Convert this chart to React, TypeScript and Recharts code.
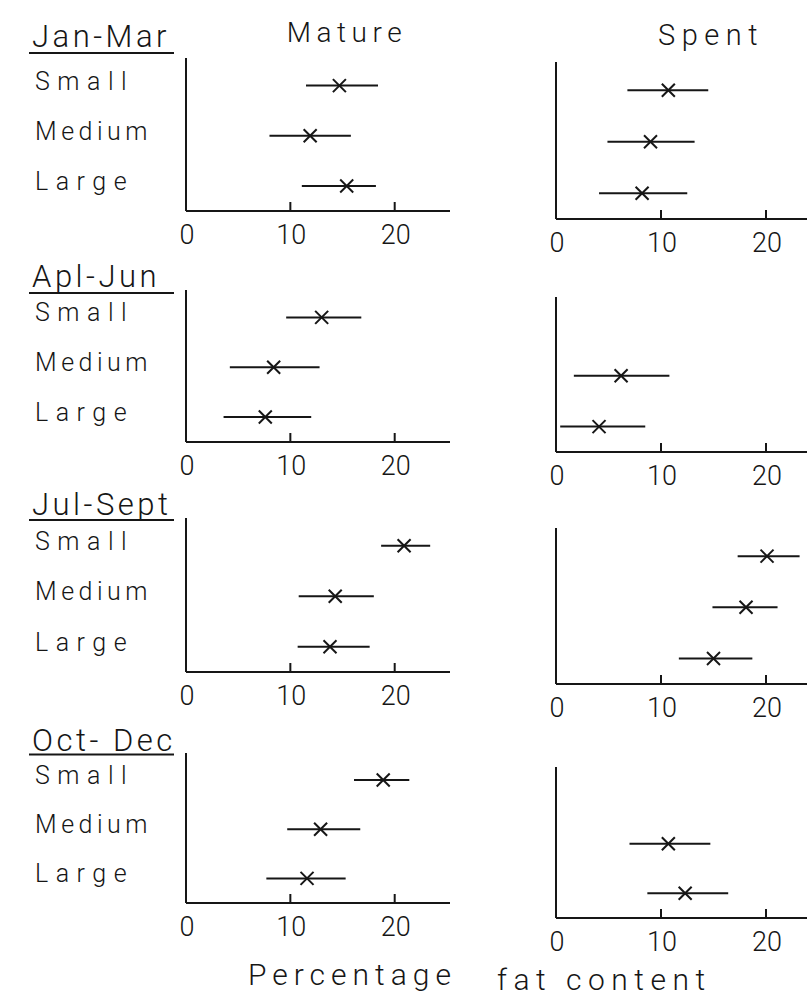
import React from 'react';
import { ScatterChart, Scatter, XAxis, YAxis, ErrorBar } from 'recharts';

// ---- data ----
const SEASONS = ['Jan-Mar', 'Apl-Jun', 'Jul-Sept', 'Oct- Dec'];
const SIZES = ['Small', 'Medium', 'Large'];
const X_TICKS = [0, 10, 20];
const GROUPS = ['Mature', 'Spent'];
const X_LABEL_LEFT = 'Percentage';
const X_LABEL_RIGHT = 'fat content';

// rows: Small, Medium, Large ; one inner array per season
const MATURE_MEAN = [[14.7, 11.9, 15.4], [13.0, 8.4, 7.6], [20.9, 14.3, 13.8], [18.9, 12.9, 11.6]];
const MATURE_LOW = [[11.5, 8.0, 11.1], [9.6, 4.2, 3.6], [18.7, 10.8, 10.7], [16.1, 9.7, 7.7]];
const MATURE_HIGH = [[18.4, 15.8, 18.2], [16.8, 12.8, 12.0], [23.4, 18.0, 17.6], [21.4, 16.7, 15.3]];

const SPENT_MEAN = [[10.7, 9.0, 8.2], [null, 6.2, 4.1], [20.1, 18.1, 15.0], [null, 10.7, 12.3]];
const SPENT_LOW = [[6.8, 4.9, 4.1], [null, 1.7, 0.4], [17.3, 14.9, 11.7], [null, 7.0, 8.7]];
const SPENT_HIGH = [[14.5, 13.2, 12.5], [null, 10.8, 8.5], [23.2, 21.1, 18.7], [null, 14.7, 16.4]];

// ---- layout ----
const INK = '#161616';
const FONT = 'Roboto, "DejaVu Sans", sans-serif';
const WEIGHT = 300;
const MATURE_TOPS = [58, 290, 518, 753];
const MATURE_AXES = [211, 442, 672, 903];
const SPENT_TOPS = [62, 297, 528, 767];
const SPENT_AXES = [219, 452, 684, 918];
const LABEL_X = 35;
const SIZE_SPACING: Record<string, number> = { Small: 7.5, Medium: 4.5, Large: 7.5 };
const ROW_VALUE = [3, 2, 1];

const Cross = (props: any) => {
  const { cx, cy } = props;
  if (cx == null || cy == null) return null;
  const s = 6.5;
  return (
    <g>
      <line x1={cx - s} y1={cy - s} x2={cx + s} y2={cy + s} stroke={INK} strokeWidth={2} />
      <line x1={cx - s} y1={cy + s} x2={cx + s} y2={cy - s} stroke={INK} strokeWidth={2} />
    </g>
  );
};

const XTick = (props: any) => {
  const { x, y, payload } = props;
  return (
    <g>
      {payload.value !== 0 && <line x1={x} x2={x} y1={y} y2={y - 9} stroke={INK} strokeWidth={2} />}
      <text x={x + 1} y={y + 33} textAnchor="middle" fontSize={27} fontFamily={FONT} fontWeight={WEIGHT} fill={INK}>
        {payload.value}
      </text>
    </g>
  );
};

const YTick = (props: any) => {
  const { y, payload } = props;
  const label = SIZES[3 - payload.value];
  return (
    <text x={LABEL_X} y={y + 4} textAnchor="start" fontSize={25} fontFamily={FONT} fontWeight={WEIGHT} fill={INK}
      letterSpacing={SIZE_SPACING[label]}>
      {label}
    </text>
  );
};

type PanelProps = {
  means: (number | null)[];
  lows: (number | null)[];
  highs: (number | null)[];
  xMax: number;
  svgLeft: number;
  svgWidth: number;
  plotLeft: number;
  plotRight: number;
  plotTop: number;
  axisY: number;
  yWidth: number;
  showLabels: boolean;
};

function Panel(p: PanelProps) {
  const data = p.means
    .map((m, i) =>
      m == null
        ? null
        : { x: m, y: ROW_VALUE[i], err: [m - (p.lows[i] as number), (p.highs[i] as number) - m] }
    )
    .filter(Boolean) as any[];
  const marginTop = 12;
  const xAxisH = 44;
  const height = p.axisY - p.plotTop + marginTop + xAxisH;
  return (
    <div style={{ position: 'absolute', left: p.svgLeft, top: p.plotTop - marginTop }}>
      <ScatterChart
        width={p.svgWidth}
        height={height}
        margin={{
          top: marginTop,
          right: p.svgLeft + p.svgWidth - p.plotRight,
          bottom: 0,
          left: p.plotLeft - p.svgLeft - p.yWidth,
        }}
      >
        <XAxis
          type="number"
          dataKey="x"
          domain={[0, p.xMax]}
          allowDataOverflow
          ticks={X_TICKS}
          interval={0}
          height={xAxisH}
          axisLine={{ stroke: INK, strokeWidth: 2 }}
          tickLine={false}
          tickSize={0}
          tickMargin={0}
          tick={(tp: any) => <XTick {...tp} />}
        />
        <YAxis
          type="number"
          dataKey="y"
          domain={[0.5, 3.55]}
          allowDataOverflow
          ticks={[1, 2, 3]}
          interval={0}
          width={p.yWidth}
          axisLine={{ stroke: INK, strokeWidth: 2 }}
          tickLine={false}
          tickSize={0}
          tickMargin={0}
          tick={p.showLabels ? (tp: any) => <YTick {...tp} /> : false}
        />
        <Scatter data={data} shape={(sp: any) => <Cross {...sp} />} isAnimationActive={false}>
          <ErrorBar dataKey="err" direction="x" width={0} stroke={INK} strokeWidth={2} isAnimationActive={false} />
        </Scatter>
      </ScatterChart>
    </div>
  );
}

const SEASON_BASELINES = [47, 287, 515, 751];
const UNDERLINE_Y = [53, 293, 520, 754.5];

export default function App() {
  return (
    <div style={{ position: 'absolute', left: 0, top: 0, width: 807, height: 1000, overflow: 'hidden', background: '#fff' }}>
      <svg width={807} height={1000} style={{ position: 'absolute', left: 0, top: 0 }}>
        <text x={347} y={42} textAnchor="middle" fontSize={28} fontFamily={FONT} fontWeight={WEIGHT} fill={INK} letterSpacing={5.5}>
          {GROUPS[0]}
        </text>
        <text x={711} y={45} textAnchor="middle" fontSize={29} fontFamily={FONT} fontWeight={WEIGHT} fill={INK} letterSpacing={6.5}>
          {GROUPS[1]}
        </text>
        {SEASONS.map((s, i) => (
          <g key={s}>
            <text x={32} y={SEASON_BASELINES[i]} fontSize={31} fontFamily={FONT} fontWeight={WEIGHT} fill={INK} letterSpacing={3.5}>
              {s}
            </text>
            <line x1={29} x2={174} y1={UNDERLINE_Y[i]} y2={UNDERLINE_Y[i]} stroke={INK} strokeWidth={2} />
          </g>
        ))}
        <text x={248} y={985} fontSize={30} fontFamily={FONT} fontWeight={WEIGHT} fill={INK} letterSpacing={6}>
          {X_LABEL_LEFT}
        </text>
        <text x={497} y={990} fontSize={30} fontFamily={FONT} fontWeight={WEIGHT} fill={INK} letterSpacing={6.5}>
          {X_LABEL_RIGHT}
        </text>
      </svg>
      {SEASONS.map((s, i) => (
        <Panel
          key={'m' + s}
          means={MATURE_MEAN[i]}
          lows={MATURE_LOW[i]}
          highs={MATURE_HIGH[i]}
          xMax={25.3}
          svgLeft={0}
          svgWidth={470}
          plotLeft={186}
          plotRight={450}
          plotTop={MATURE_TOPS[i]}
          axisY={MATURE_AXES[i]}
          yWidth={150}
          showLabels={true}
        />
      ))}
      {SEASONS.map((s, i) => (
        <Panel
          key={'s' + s}
          means={SPENT_MEAN[i]}
          lows={SPENT_LOW[i]}
          highs={SPENT_HIGH[i]}
          xMax={24}
          svgLeft={480}
          svgWidth={330}
          plotLeft={556}
          plotRight={808}
          plotTop={SPENT_TOPS[i]}
          axisY={SPENT_AXES[i]}
          yWidth={10}
          showLabels={false}
        />
      ))}
    </div>
  );
}
